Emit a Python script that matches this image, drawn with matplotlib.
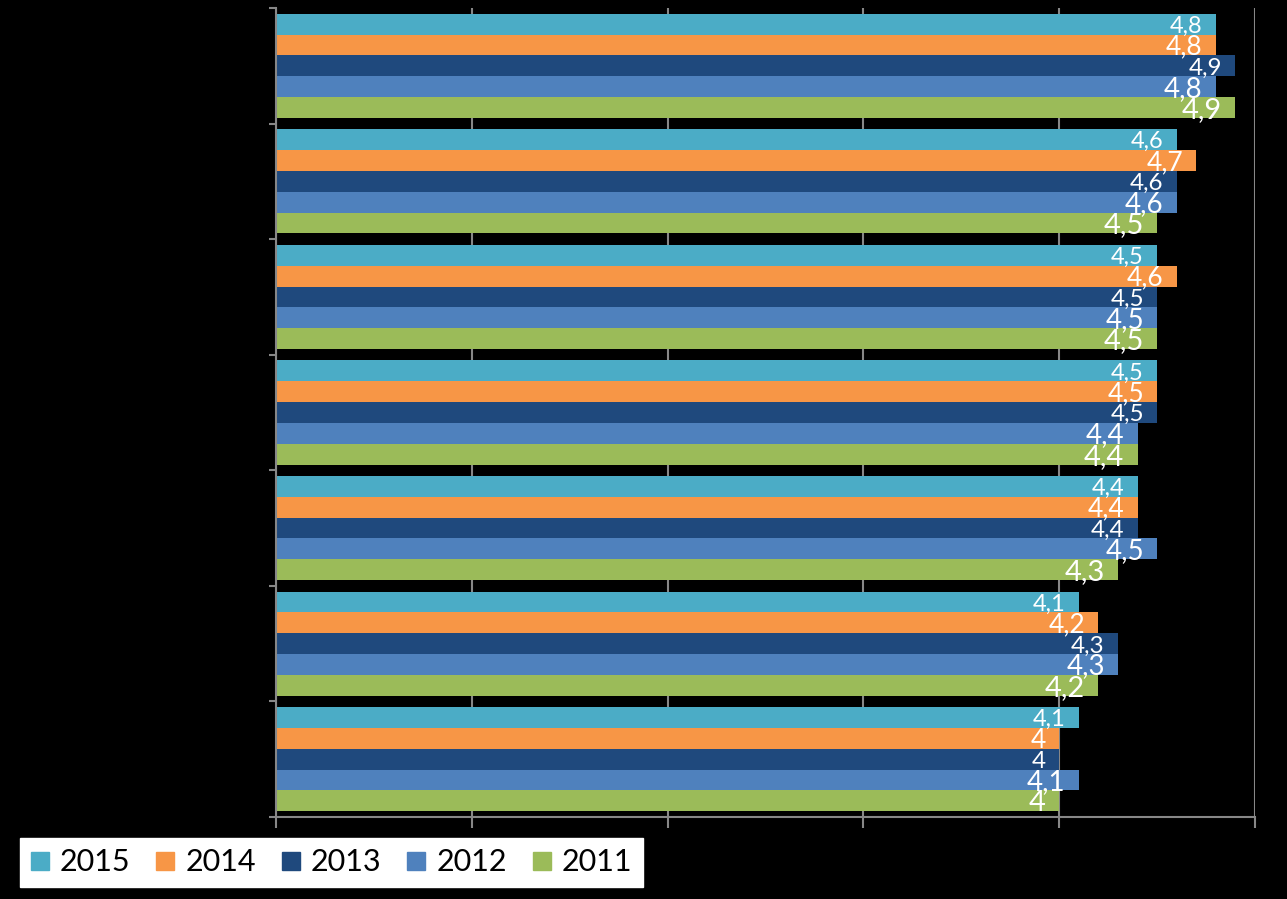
import matplotlib
matplotlib.use("Agg")
import matplotlib.pyplot as plt
from matplotlib.lines import Line2D

plt.rcParams['font.family'] = ['Lato', 'DejaVu Sans']

series = ['2015', '2014', '2013', '2012', '2011']
colors = ['#4BACC6', '#F79646', '#1F497D', '#4F81BD', '#9BBB59']
# groups listed top to bottom
v2015 = [4.8, 4.6, 4.5, 4.5, 4.4, 4.1, 4.1]
v2014 = [4.8, 4.7, 4.6, 4.5, 4.4, 4.2, 4.0]
v2013 = [4.9, 4.6, 4.5, 4.5, 4.4, 4.3, 4.0]
v2012 = [4.8, 4.6, 4.5, 4.4, 4.5, 4.3, 4.1]
v2011 = [4.9, 4.5, 4.5, 4.4, 4.3, 4.2, 4.0]
values = [v2015, v2014, v2013, v2012, v2011]
label_sizes = [17, 19, 17.5, 20, 21]

W, H = 1287, 899
fig = plt.figure(figsize=(W / 100, H / 100), dpi=100, facecolor='black')
ax = fig.add_axes([276 / W, 1 - 817 / H, (1255 - 276) / W, (817 - 8) / H])
ax.set_facecolor('black')

n = len(v2015)
bh = 0.18
for j, (name, vals, col) in enumerate(zip(series, values, colors)):
    ys = [i + (j - 2) * bh for i in range(n)]
    ax.barh(ys, vals, height=bh, color=col, label=name, zorder=2)
    fs = label_sizes[j]
    for y, v in zip(ys, vals):
        txt = ('%g' % v).replace('.', ',')
        ax.annotate(txt, xy=(v, y), xytext=(-9.5, -0.36 * fs),
                    textcoords='offset points', ha='right', va='baseline',
                    color='white', fontsize=fs, zorder=3)

ax.set_xlim(0, 5)
ax.set_ylim(n - 0.5, -0.5)
ax.set_xticks(range(6))
ax.set_yticks([k - 0.5 for k in range(n + 1)])
ax.set_xticklabels([])
ax.set_yticklabels([])
gray = '#878787'
ax.tick_params(axis='x', direction='out', length=8, width=1.5, color=gray)
ax.tick_params(axis='y', direction='out', length=5, width=1.5, color=gray)
ax.grid(axis='x', color=gray, linewidth=1.5, zorder=0)
ax.set_axisbelow(True)
for s in ['top', 'right']:
    ax.spines[s].set_visible(False)
for s in ['left', 'bottom']:
    ax.spines[s].set_color(gray)
    ax.spines[s].set_linewidth(1.5)

handles = [Line2D([], [], marker='s', linestyle='none', markersize=13,
                  markerfacecolor=c, markeredgecolor=c) for c in colors]
leg = fig.legend(handles, series, loc='lower left',
                 bbox_to_anchor=(20 / W, 1 - 887 / H, (643 - 20) / W, (887 - 835) / H),
                 mode='expand', ncol=5, frameon=True, fancybox=False,
                 fontsize=22, handlelength=0.6, handletextpad=0.35,
                 borderpad=0.35, borderaxespad=0, columnspacing=0.9)
leg.get_frame().set_facecolor('white')
leg.get_frame().set_edgecolor('white')
leg.get_frame().set_alpha(1)

fig.savefig('out.png', dpi=100, facecolor='black')
